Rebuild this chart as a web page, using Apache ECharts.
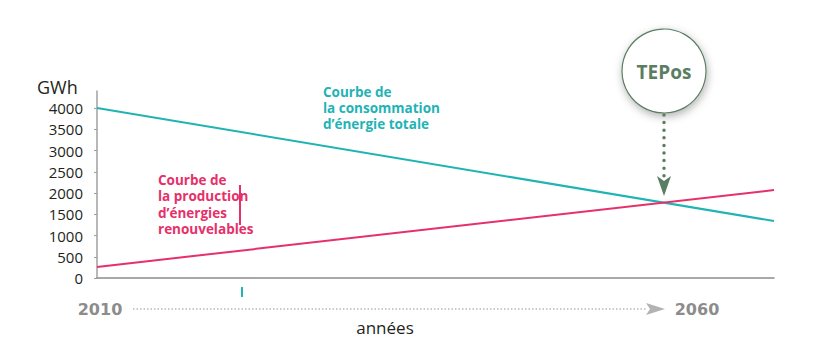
<!DOCTYPE html>
<html>
<head>
<meta charset="utf-8">
<script src="https://cdn.jsdelivr.net/npm/echarts@6/dist/echarts.min.js"></script>
<style>html,body{margin:0;padding:0;background:#fff}#c{width:813px;height:357px}</style>
</head>
<body>
<div id="c"></div>
<script>
var years = [2010, 2060];
var consumption = [4000, 1340];
var production = [260, 2070];
var yTicks = [0, 500, 1000, 1500, 2000, 2500, 3000, 3500, 4000];
var yearLabels = ['2010', '2060'];
var consLabel = ['Courbe de', 'la consommation', 'd\u2019énergie totale'];
var prodLabel = ['Courbe de', 'la production', 'd\u2019énergies', 'renouvelables'];
var badge = 'TEPos';
var yUnit = 'GWh';
var xName = 'années';

var TEAL = '#1fb3b5', RED = '#e6306a', GREEN = '#5b7d62', GREY = '#8c8c8c';
var FONT = '"Open Sans", sans-serif';

var chart = echarts.init(document.getElementById('c'), null, {renderer: 'svg'});
function pairs(xs, ys){ return xs.map(function(x,i){ return [x, ys[i]]; }); }

chart.setOption({
  animation: false,
  grid: {left: 97, right: 39, top: 91, bottom: 79},
  xAxis: {
    type: 'value', min: years[0], max: years[years.length-1],
    axisLine: {show: true, lineStyle: {color: GREY, width: 1.5}},
    axisTick: {show: false}, axisLabel: {show: false}, splitLine: {show: false}
  },
  yAxis: {
    type: 'value', min: 0, max: 4400,
    axisLine: {show: true, lineStyle: {color: '#a0a0a0', width: 1.5}},
    axisTick: {show: true, length: 3, customValues: yTicks, lineStyle: {color: '#a0a0a0'}},
    axisLabel: {customValues: yTicks, margin: 14, fontFamily: FONT, fontSize: 15, color: '#231f20',
      formatter: function(v){ return String(v); }},
    splitLine: {show: false}
  },
  series: [
    {type: 'line', data: pairs(years, consumption), symbol: 'none', lineStyle: {color: TEAL, width: 2}},
    {type: 'line', data: pairs(years, production), symbol: 'none', lineStyle: {color: RED, width: 2}}
  ]
});

// intersection year from data
var sc = (consumption[1]-consumption[0])/(years[1]-years[0]);
var sp = (production[1]-production[0])/(years[1]-years[0]);
var tx = years[0] + (consumption[0]-production[0])/(sp - sc);
var ix = Math.round(chart.convertToPixel({xAxisIndex: 0}, tx));

var graphics = [
  {type: 'text', left: 37, top: 78, style: {text: yUnit, font: '18px ' + FONT, fill: '#231f20'}},
  {type: 'rect', shape: {x: 239, y: 185, width: 2, height: 40}, style: {fill: RED}},
  {type: 'rect', shape: {x: 241, y: 287, width: 2, height: 10}, style: {fill: TEAL}},
  // bottom years annotation
  {type: 'text', x: 100, y: 309, style: {text: yearLabels[0], font: 'bold 16px "DejaVu Sans"', fill: GREY, align: 'center', verticalAlign: 'middle'}},
  {type: 'text', x: 697, y: 309, style: {text: yearLabels[1], font: 'bold 16px "DejaVu Sans"', fill: GREY, align: 'center', verticalAlign: 'middle'}},
  {type: 'line', shape: {x1: 133, y1: 309, x2: 646, y2: 309}, style: {stroke: '#b8b8b8', lineWidth: 1.5, lineDash: [1.5, 2]}},
  {type: 'polygon', shape: {points: [[646, 303], [665, 309], [646, 315], [650, 309]]}, style: {fill: '#b3b3b3'}},
  {type: 'text', x: 385, y: 327, style: {text: xName, font: '17px ' + FONT, fill: '#231f20', align: 'center', verticalAlign: 'middle'}},
  // TEPos badge
  {type: 'circle', shape: {cx: ix + 1, cy: 71, r: 42}, style: {fill: '#fff', stroke: GREEN, lineWidth: 1.2, shadowBlur: 8, shadowOffsetX: 1, shadowOffsetY: 3, shadowColor: 'rgba(0,0,0,0.3)'}},
  {type: 'text', x: ix + 1, y: 72, style: {text: badge, font: 'bold 19px ' + FONT, fill: GREEN, align: 'center', verticalAlign: 'middle'}},
  {type: 'line', shape: {x1: ix + 1, y1: 115, x2: ix + 1, y2: 176}, style: {stroke: GREEN, lineWidth: 3.5, lineCap: 'round', lineDash: [0, 7.6]}},
  {type: 'polygon', shape: {points: [[ix - 6, 176], [ix + 1, 181], [ix + 8, 176], [ix + 1, 196]]}, style: {fill: GREEN}}
];
consLabel.forEach(function(t, i){
  graphics.push({type: 'text', x: 323, y: 91.5 + i * 16.2, style: {text: t, font: 'bold 13.5px ' + FONT, fill: TEAL, verticalAlign: 'middle'}});
});
prodLabel.forEach(function(t, i){
  graphics.push({type: 'text', x: 158, y: 180 + i * 16.4, style: {text: t, font: 'bold 13.5px ' + FONT, fill: RED, verticalAlign: 'middle'}});
});
chart.setOption({graphic: graphics});
</script>
</body>
</html>
